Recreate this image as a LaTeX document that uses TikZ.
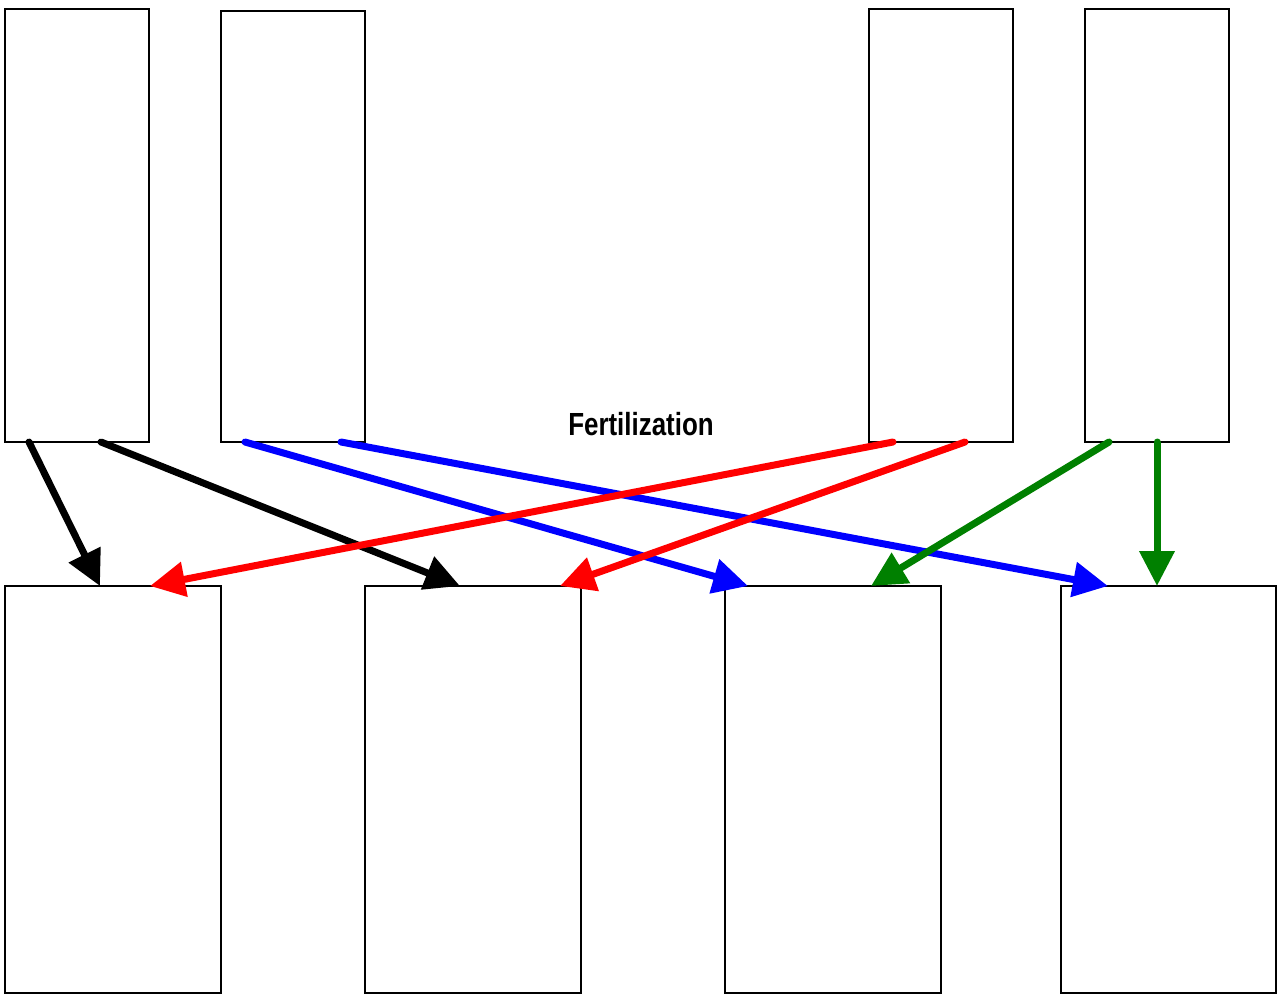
\documentclass[tikz,border=0pt]{standalone}
\usepackage{fontspec}
\setmainfont{Liberation Sans}
\usetikzlibrary{arrows.meta,calc}
\definecolor{dgreen}{RGB}{0,128,0}
\begin{document}
\begin{tikzpicture}[x=1pt,y=-1pt,
  box/.style={draw=black,line width=1.5pt,fill=white,rectangle,inner sep=0pt,outer sep=0pt,anchor=north west},
  topbox/.style={box,minimum width=144pt,minimum height=433pt},
  botbox/.style={box,minimum width=216pt,minimum height=407pt},
  conn/.style={line width=7pt,line cap=round,-{Triangle[length=35pt,width=34pt]}}]
\useasboundingbox (0,0) rectangle (1277,994);
\node[topbox] (A) at (5,9) {};
\node[topbox,minimum height=431pt] (B) at (221,11) {};
\node[topbox] (C) at (869,9) {};
\node[topbox] (D) at (1085,9) {};
\node[botbox] (E) at (5,586) {};
\node[botbox] (F) at (365,586) {};
\node[botbox] (G) at (725,586) {};
\node[botbox,minimum width=215pt] (H) at (1061,586) {};
\node[font=\bfseries\fontsize{32}{32}\selectfont,xscale=0.81,anchor=base] (lbl) at (641,435) {Fertilization};
\draw[conn,black] ($(A.south west)+(24,0)$) -- ($(E.north west)+(95,0)$);
\draw[conn,black] ($(A.south west)+(96,0)$) -- ($(F.north west)+(95,0)$);
\draw[conn,blue] ($(B.south west)+(24,0)$) -- ($(G.north west)+(23,0)$);
\draw[conn,blue] ($(B.south west)+(120,0)$) -- ($(H.north west)+(47,0)$);
\draw[conn,red] ($(C.south west)+(24,0)$) -- ($(E.north west)+(145,0)$);
\draw[conn,red] ($(C.south west)+(96,0)$) -- ($(F.north west)+(195,0)$);
\draw[conn,dgreen] ($(D.south west)+(24,0)$) -- ($(G.north west)+(146,0)$);
\draw[conn,dgreen] ($(D.south west)+(72,0)$) -- ($(H.north west)+(96,0)$);
\end{tikzpicture}
\end{document}
